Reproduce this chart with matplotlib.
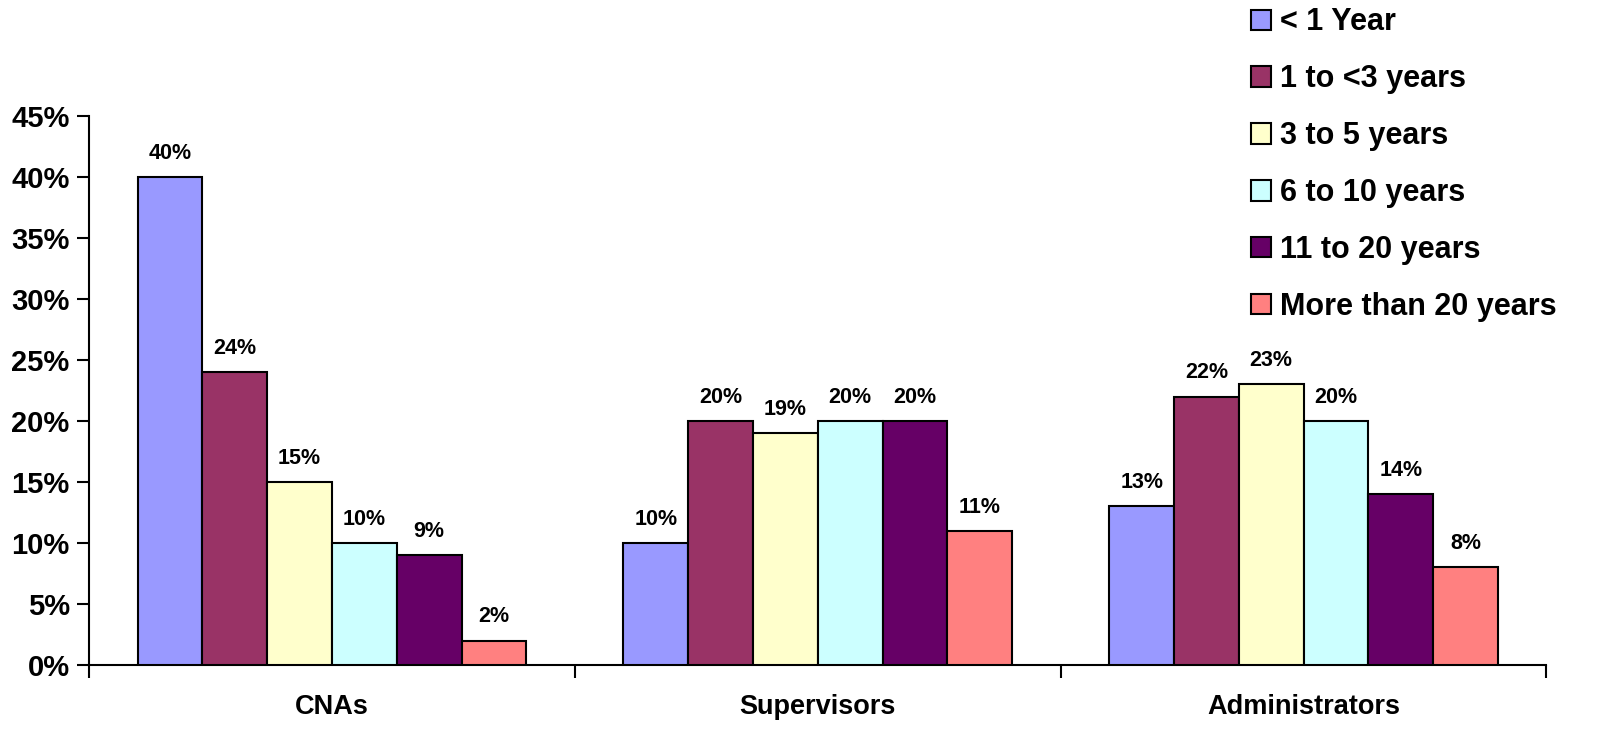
import numpy as np
import matplotlib.pyplot as plt
from matplotlib.ticker import FuncFormatter

plt.rcParams['font.family'] = ['Liberation Sans', 'DejaVu Sans']
plt.rcParams['font.weight'] = 'bold'

groups = ["CNAs", "Supervisors", "Administrators"]
series = ["< 1 Year", "1 to <3 years", "3 to 5 years", "6 to 10 years",
          "11 to 20 years", "More than 20 years"]
colors = ["#9999FF", "#993366", "#FFFFCC", "#CCFFFF", "#660066", "#FF8080"]

# rows = series, columns = groups (percent)
values = [
    [40, 10, 13],
    [24, 20, 22],
    [15, 19, 23],
    [10, 20, 20],
    [9, 20, 14],
    [2, 11, 8],
]

fig = plt.figure(figsize=(16.21, 7.46), dpi=100)
ax = fig.add_axes([0.055, 0.1086, 0.899, 0.736])

x = np.arange(len(groups))
n = len(series)
w = 0.8 / n
for i, (name, col) in enumerate(zip(series, colors)):
    pos = x - 0.4 + w * (i + 0.5)
    bars = ax.bar(pos, values[i], width=w, color=col, edgecolor="black",
                  linewidth=1.5, label=name, zorder=3)
    for b, v in zip(bars, values[i]):
        ax.annotate(f"{v}%", (b.get_x() + b.get_width() / 2, v),
                    xytext=(0, 17), textcoords="offset points",
                    ha="center", va="center", fontsize=15.5, fontweight="bold")

ax.set_xlim(-0.5, len(groups) - 0.5)
ax.set_ylim(0, 45)
ax.set_yticks(np.arange(0, 46, 5))
ax.yaxis.set_major_formatter(FuncFormatter(lambda v, p: f"{v:.0f}%"))
ax.set_xticks(x)
ax.set_xticklabels(groups)
ax.set_xticks(np.arange(-0.5, len(groups), 1), minor=True)
ax.tick_params(axis="x", which="major", length=0, pad=21, labelsize=19.5)
ax.tick_params(axis="x", which="minor", length=9, width=1.5, direction="out")
ax.tick_params(axis="y", length=9, width=1.5, labelsize=21, pad=5)

for s in ["top", "right"]:
    ax.spines[s].set_visible(False)
for s in ["left", "bottom"]:
    ax.spines[s].set_linewidth(1.5)

leg = fig.legend(loc="upper left", bbox_to_anchor=(0.772, 0.99), frameon=False,
                 fontsize=22, handlelength=0.65, handleheight=0.65,
                 handletextpad=0.3, labelspacing=0.88, borderpad=0.0,
                 borderaxespad=0.0)
for t in leg.get_texts():
    t.set_fontweight("bold")

fig.savefig("out.png", dpi=100)
